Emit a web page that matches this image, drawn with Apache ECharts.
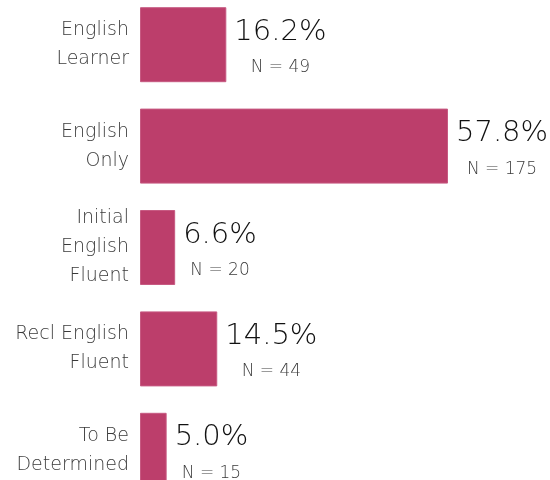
<!DOCTYPE html>
<html><head><meta charset="utf-8">
<script src="https://cdn.jsdelivr.net/npm/echarts@6/dist/echarts.min.js"></script>
<style>html,body{margin:0;padding:0;background:#fff;overflow:hidden}#c{width:550px;height:507px;margin-top:-6px}</style>
</head><body><div id="c"></div>
<script>
var categories = ['English\nLearner', 'English\nOnly', 'Initial\nEnglish\nFluent', 'Recl English\nFluent', 'To Be\nDetermined'];
var percents = [16.2, 57.8, 6.6, 14.5, 5.0];
var counts = [49, 175, 20, 44, 15];

var chart = echarts.init(document.getElementById('c'), null, {renderer: 'canvas'});
chart.setOption({
  animation: false,
  grid: {left: 140, right: 37, top: 0, bottom: 0, containLabel: false},
  xAxis: {type: 'value', min: 0, max: 70, show: false},
  yAxis: {
    type: 'category', data: categories, inverse: true,
    axisLine: {show: false}, axisTick: {show: false}, splitLine: {show: false},
    axisLabel: {margin: 11, color: '#3a3a3a', fontFamily: 'DejaVu Sans', fontWeight: 200, fontSize: 19, lineHeight: 29, align: 'right', offset: [0, -2]}
  },
  series: [{
    type: 'bar', barWidth: 75,
    data: percents.map(function (p, i) { return {value: p, n: counts[i]}; }),
    itemStyle: {color: '#BC3E6B', borderColor: '#C75A82', borderWidth: 1},
    label: {
      show: true, position: 'right', distance: 8, offset: [0, 5],
      formatter: function (p) { return '{a|' + p.value.toFixed(1) + '%}\n{b|N = ' + counts[p.dataIndex] + '}'; },
      rich: {
        a: {fontFamily: 'DejaVu Sans', fontWeight: 200, fontSize: 29, color: '#111', lineHeight: 36, align: 'center'},
        b: {fontFamily: 'DejaVu Sans', fontWeight: 200, fontSize: 17, color: '#3a3a3a', lineHeight: 35, align: 'center'}
      }
    }
  }]
});
</script></body></html>
